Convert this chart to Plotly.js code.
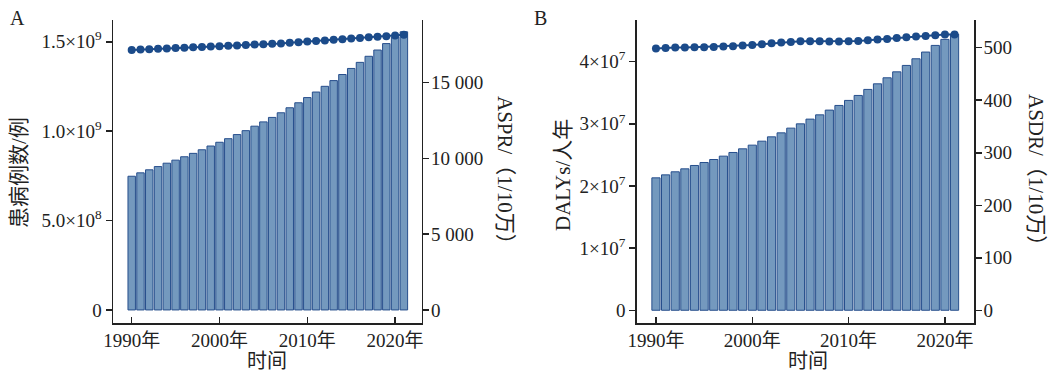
<!DOCTYPE html>
<html>
<head>
<meta charset="utf-8">
<script src="https://cdn.plot.ly/plotly-3.0.1.min.js"></script>
<style>html,body{margin:0;padding:0;background:#fff;}#chart{width:1049px;height:375px;}</style>
</head>
<body>
<div id="chart"></div>
<script>
const years = [1990,1991,1992,1993,1994,1995,1996,1997,1998,1999,2000,2001,2002,2003,2004,2005,2006,2007,2008,2009,2010,2011,2012,2013,2014,2015,2016,2017,2018,2019,2020,2021];
const prevalentCases = [7.48e8,7.67e8,7.84e8,8.02e8,8.21e8,8.38e8,8.57e8,8.76e8,8.96e8,9.17e8,9.38e8,9.58e8,9.81e8,1.003e9,1.028e9,1.052e9,1.077e9,1.103e9,1.131e9,1.159e9,1.188e9,1.219e9,1.251e9,1.283e9,1.317e9,1.351e9,1.385e9,1.419e9,1.454e9,1.490e9,1.526e9,1.556e9];
const aspr = [17150,17180,17200,17220,17250,17280,17300,17320,17340,17370,17400,17420,17440,17470,17500,17520,17550,17580,17620,17660,17700,17740,17780,17820,17860,17900,17940,17980,18020,18060,18100,18150];
const dalys = [2.131e7,2.179e7,2.228e7,2.276e7,2.330e7,2.378e7,2.426e7,2.480e7,2.539e7,2.598e7,2.657e7,2.721e7,2.791e7,2.855e7,2.931e7,3.000e7,3.076e7,3.145e7,3.221e7,3.296e7,3.377e7,3.457e7,3.554e7,3.644e7,3.741e7,3.837e7,3.940e7,4.047e7,4.155e7,4.262e7,4.359e7,4.444e7];
const asdr = [498.4,499.7,500.3,500.3,501.0,501.0,501.6,502.2,502.9,504.1,505.4,506.7,508.6,509.9,511.1,512.4,512.4,512.4,511.7,511.7,512.4,513.0,514.3,515.6,516.8,518.7,520.0,521.3,522.5,523.8,525.1,525.1];

const xTickVals = [1990,2000,2010,2020];
const xTickText = ['1990年','2000年','2010年','2020年'];
const aLeftVals = [0,5e8,1e9,1.5e9];
const aLeftText = ['0','5.0×10<sup>8</sup>','1.0×10<sup>9</sup>','1.5×10<sup>9</sup>'];
const aRightVals = [0,5000,10000,15000];
const aRightText = ['0','5 000','10 000','15 000'];
const bLeftVals = [0,1e7,2e7,3e7,4e7];
const bLeftText = ['0','1×10<sup>7</sup>','2×10<sup>7</sup>','3×10<sup>7</sup>','4×10<sup>7</sup>'];
const bRightVals = [0,100,200,300,400,500];
const bRightText = ['0','100','200','300','400','500'];

const FONT = 'Liberation Serif, Times New Roman, Noto Sans CJK SC, serif';
const barFill = 'rgb(116,153,190)';
const barEdge = 'rgb(38,78,140)';
const lineCol = 'rgb(27,75,138)';

const W = 1049, H = 375;
const yDom = [1 - 323/H, 1 - 20/H];
const axBase = {
  showline: true, linecolor: '#222', linewidth: 1.5, showgrid: false, zeroline: false,
  tickfont: {family: FONT, size: 19, color: '#222'}, ticklen: 6, tickwidth: 1.5, tickcolor: '#222',
  fixedrange: true
};

const traces = [
  {type: 'bar', x: years, y: prevalentCases, xaxis: 'x', yaxis: 'y', width: 0.85,
   marker: {color: barFill, line: {color: barEdge, width: 1}}, hoverinfo: 'skip'},
  {type: 'scatter', mode: 'lines+markers', x: years, y: aspr, xaxis: 'x', yaxis: 'y2',
   line: {color: lineCol, width: 2}, marker: {color: lineCol, size: 8}, hoverinfo: 'skip'},
  {type: 'bar', x: years, y: dalys, xaxis: 'x2', yaxis: 'y3', width: 0.85,
   marker: {color: barFill, line: {color: barEdge, width: 1}}, hoverinfo: 'skip'},
  {type: 'scatter', mode: 'lines+markers', x: years, y: asdr, xaxis: 'x2', yaxis: 'y4',
   line: {color: lineCol, width: 2}, marker: {color: lineCol, size: 8}, hoverinfo: 'skip'}
];

const layout = {
  width: W, height: H, margin: {l: 0, r: 0, t: 0, b: 0},
  paper_bgcolor: '#fff', plot_bgcolor: 'rgba(0,0,0,0)', showlegend: false,
  font: {family: FONT, color: '#222'},
  xaxis: Object.assign({}, axBase, {domain: [113/W, 421.7/W], range: [1987.87, 2023.03], anchor: 'y',
    tickvals: xTickVals, ticktext: xTickText, ticks: 'inside'}),
  yaxis: Object.assign({}, axBase, {domain: yDom, range: [-7.3e7, 1.622e9], anchor: 'x',
    tickvals: aLeftVals, ticktext: aLeftText, ticks: 'outside'}),
  yaxis2: Object.assign({}, axBase, {overlaying: 'y', side: 'right', anchor: 'x', range: [-860, 19124],
    tickvals: aRightVals, ticktext: aRightText, ticks: 'outside', ticklabelstandoff: -2}),
  xaxis2: Object.assign({}, axBase, {domain: [636.7/W, 974.3/W], range: [1988.0, 2023.05], anchor: 'y3',
    tickvals: xTickVals, ticktext: xTickText, ticks: 'inside'}),
  yaxis3: Object.assign({}, axBase, {domain: yDom, range: [-2.05e6, 4.671e7], anchor: 'x2',
    tickvals: bLeftVals, ticktext: bLeftText, ticks: 'outside'}),
  yaxis4: Object.assign({}, axBase, {overlaying: 'y3', side: 'right', anchor: 'x2', range: [-24.2, 552.8],
    tickvals: bRightVals, ticktext: bRightText, ticks: 'outside', ticklabelstandoff: -2}),
  annotations: [
    {text: 'A', xref: 'paper', yref: 'paper', x: 8/W, y: 1 - 18/H, xanchor: 'left', yanchor: 'middle', showarrow: false, font: {family: FONT, size: 20, color: '#222'}},
    {text: 'B', xref: 'paper', yref: 'paper', x: 532/W, y: 1 - 18/H, xanchor: 'left', yanchor: 'middle', showarrow: false, font: {family: FONT, size: 20, color: '#222'}},
    {text: '患病例数/例', xref: 'paper', yref: 'paper', x: 19/W, y: 1 - 173/H, xanchor: 'center', yanchor: 'middle', textangle: -90, showarrow: false, font: {family: FONT, size: 21, color: '#222'}},
    {text: 'ASPR/（1/10万）', xref: 'paper', yref: 'paper', x: 505/W, y: 1 - 175/H, xanchor: 'center', yanchor: 'middle', textangle: 90, showarrow: false, font: {family: FONT, size: 21, color: '#222'}},
    {text: 'DALYs/人年', xref: 'paper', yref: 'paper', x: 563/W, y: 1 - 175/H, xanchor: 'center', yanchor: 'middle', textangle: -90, showarrow: false, font: {family: FONT, size: 21, color: '#222'}},
    {text: 'ASDR/（1/10万）', xref: 'paper', yref: 'paper', x: 1036/W, y: 1 - 175/H, xanchor: 'center', yanchor: 'middle', textangle: 90, showarrow: false, font: {family: FONT, size: 21, color: '#222'}},
    {text: '时间', xref: 'paper', yref: 'paper', x: 267/W, y: 1 - 361/H, xanchor: 'center', yanchor: 'middle', showarrow: false, font: {family: FONT, size: 20, color: '#222'}},
    {text: '时间', xref: 'paper', yref: 'paper', x: 808/W, y: 1 - 361/H, xanchor: 'center', yanchor: 'middle', showarrow: false, font: {family: FONT, size: 20, color: '#222'}}
  ]
};

Plotly.newPlot('chart', traces, layout, {staticPlot: true, displayModeBar: false});
</script>
</body>
</html>
